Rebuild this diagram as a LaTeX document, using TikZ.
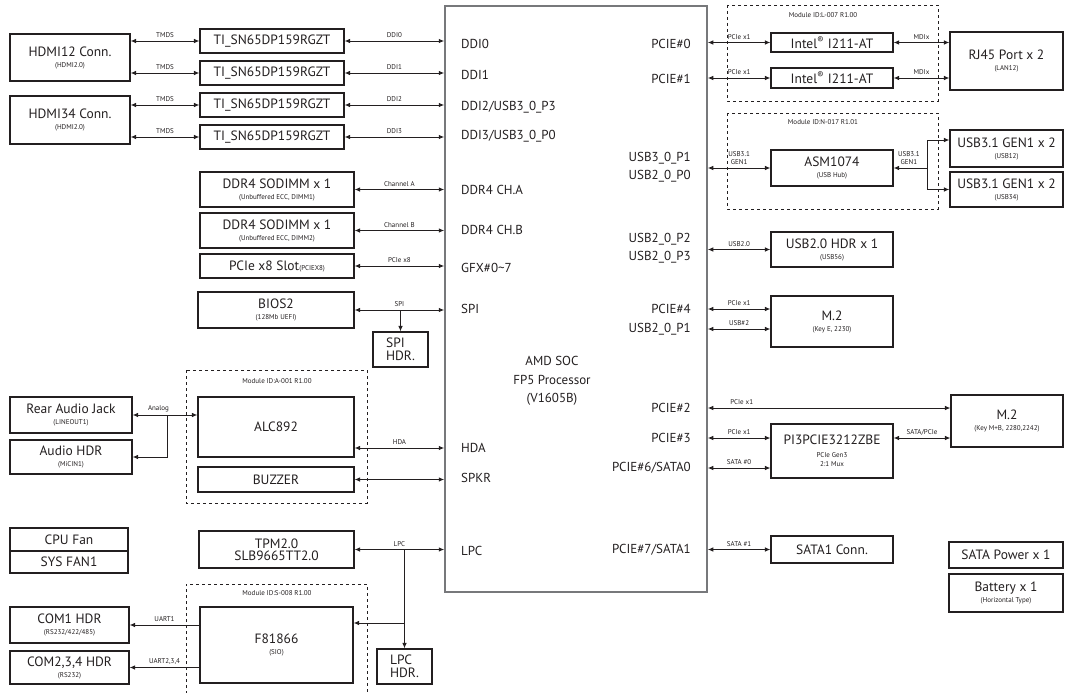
\documentclass[tikz,border=0pt]{standalone}
\usepackage{fontspec}
\setmainfont{PT Sans}
\usetikzlibrary{arrows.meta}
\definecolor{ink}{HTML}{231F20}
\definecolor{socgray}{HTML}{77787B}
\newcommand{\subt}[1]{{\fontsize{7}{8}\selectfont #1}}

\begin{document}
\begin{tikzpicture}[x=1pt,y=-1pt]
\tikzstyle{every node}+=[inner sep=0pt, text=ink]
\tikzstyle{box}=[draw=ink, line width=1.1pt, align=center, font=\fontsize{13.5}{14}\selectfont]
\tikzstyle{lbl}=[font=\fontsize{13}{14}\selectfont, align=left]
\tikzstyle{rlbl}=[font=\fontsize{13}{18}\selectfont, align=right, anchor=east]
\tikzstyle{sig}=[font=\fontsize{7}{8}\selectfont, align=center, above=2.5pt]
\tikzstyle{link}=[draw=ink, line width=0.9pt, {Latex[length=5.5pt,width=4.5pt]}-{Latex[length=5.5pt,width=4.5pt]}]
\tikzstyle{oneway}=[draw=ink, line width=0.9pt, -{Latex[length=5.5pt,width=4.5pt]}]
\tikzstyle{module}=[draw=ink, dashed, line width=0.8pt]
\useasboundingbox (0,0) rectangle (1065,693);

\node[draw=socgray, line width=1.5pt, minimum width=262, minimum height=586] (soc) at (576,299) {};
\node[font=\fontsize{13}{18.5}\selectfont, align=center] (socname) at (552,381) {AMD SOC\\FP5 Processor\\(V1605B)};
\node[lbl, anchor=west] (pddi0) at (461,44) {DDI0};
\node[lbl, anchor=west] (pddi1) at (461,75) {DDI1};
\node[lbl, anchor=west] (pddi2) at (461,107) {DDI2/USB3\_0\_P3};
\node[lbl, anchor=west] (pddi3) at (461,136) {DDI3/USB3\_0\_P0};
\node[lbl, anchor=west] (pcha) at (461,190) {DDR4 CH.A};
\node[lbl, anchor=west] (pchb) at (461,230) {DDR4 CH.B};
\node[lbl, anchor=west] (pgfx) at (461,268) {GFX\#0\textasciitilde 7};
\node[lbl, anchor=west] (pspi) at (461,309) {SPI};
\node[lbl, anchor=west] (phda) at (461,448) {HDA};
\node[lbl, anchor=west] (pspkr) at (461,478) {SPKR};
\node[lbl, anchor=west] (plpc) at (461,551) {LPC};
\node[rlbl] (ppcie0) at (691,44) {PCIE\#0};
\node[rlbl] (ppcie1) at (691,79) {PCIE\#1};
\node[rlbl] (pusb30) at (691,167) {USB3\_0\_P1\\USB2\_0\_P0};
\node[rlbl] (pusb22) at (691,248) {USB2\_0\_P2\\USB2\_0\_P3};
\node[rlbl] (ppcie4) at (691,309) {PCIE\#4};
\node[rlbl] (pusb21) at (691,329) {USB2\_0\_P1};
\node[rlbl] (ppcie2) at (691,408) {PCIE\#2};
\node[rlbl] (ppcie3) at (691,438) {PCIE\#3};
\node[rlbl] (psata0) at (691,468) {PCIE\#6/SATA0};
\node[rlbl] (psata1) at (691,550) {PCIE\#7/SATA1};

\node[box, minimum width=120, minimum height=47] (hdmi12) at (70,57.5) {HDMI12 Conn.\\[-3pt]\subt{(HDMI2.0)}};
\node[box, minimum width=120, minimum height=48] (hdmi34) at (70,120) {HDMI34 Conn.\\[-3pt]\subt{(HDMI2.0)}};
\node[box, minimum width=144, minimum height=24] (ti0) at (272,41) {TI\_SN65DP159RGZT};
\node[box, minimum width=144, minimum height=24] (ti1) at (272,73) {TI\_SN65DP159RGZT};
\node[box, minimum width=144, minimum height=24] (ti2) at (272,105) {TI\_SN65DP159RGZT};
\node[box, minimum width=144, minimum height=24] (ti3) at (272,137) {TI\_SN65DP159RGZT};
\draw[link] (ti0.west -| hdmi12.east) -- (ti0.west) node[sig, midway] {TMDS};
\draw[link] (ti1.west -| hdmi12.east) -- (ti1.west) node[sig, midway] {TMDS};
\draw[link] (ti2.west -| hdmi34.east) -- (ti2.west) node[sig, midway] {TMDS};
\draw[link] (ti3.west -| hdmi34.east) -- (ti3.west) node[sig, midway] {TMDS};
\draw[link] (ti0.east) -- (ti0.east -| soc.west) node[sig, midway] {DDI0};
\draw[link] (ti1.east) -- (ti1.east -| soc.west) node[sig, midway] {DDI1};
\draw[link] (ti2.east) -- (ti2.east -| soc.west) node[sig, midway] {DDI2};
\draw[link] (ti3.east) -- (ti3.east -| soc.west) node[sig, midway] {DDI3};

\node[box, minimum width=154, minimum height=35] (dimm1) at (277,189.5) {DDR4 SODIMM x 1\\[-3pt]\subt{(Unbuffered ECC, DIMM1)}};
\node[box, minimum width=154, minimum height=35] (dimm2) at (277,230.5) {DDR4 SODIMM x 1\\[-3pt]\subt{(Unbuffered ECC, DIMM2)}};
\node[box, minimum width=154, minimum height=24] (slot) at (277,266) {PCIe x8 Slot\subt{(PCIEX8)}};
\node[box, minimum width=156, minimum height=36] (bios) at (276,310) {BIOS2\\[-3pt]\subt{(128Mb UEFI)}};
\node[box, minimum width=55, minimum height=35, align=left] (spihdr) at (400.5,349.5) {SPI\\[-1pt]HDR.};
\draw[link] (dimm1.east) -- (dimm1.east -| soc.west) node[sig, midway] {Channel A};
\draw[link] (dimm2.east) -- (dimm2.east -| soc.west) node[sig, midway] {Channel B};
\draw[link] (slot.east) -- (slot.east -| soc.west) node[sig, midway] {PCIe x8};
\draw[link] (bios.east) -- (bios.east -| soc.west) node[sig, midway] {SPI};
\draw[oneway] (bios.east -| spihdr.north) -- (spihdr.north);

\draw[module] (186,370) rectangle (367,503);
\node[font=\fontsize{7}{8}\selectfont] (moda) at (277,381) {Module ID:A-001 R1.00};
\node[box, minimum width=156, minimum height=60] (alc) at (276,427) {ALC892};
\node[box, minimum width=156, minimum height=25] (buzzer) at (276,479.5) {BUZZER};
\node[box, minimum width=122, minimum height=36] (rear) at (71,415) {Rear Audio Jack\\[-3pt]\subt{(LINEOUT1)}};
\node[box, minimum width=122, minimum height=34] (audiohdr) at (71,457) {Audio HDR\\[-3pt]\subt{(MiCIN1)}};
\draw[link] (rear.east) -- (rear.east -| alc.west) node[sig, pos=0.4] {Analog};
\draw[oneway] ([xshift=35pt]rear.east) |- (audiohdr.east);
\draw[link] (alc.east |- phda) -- (soc.west |- phda) node[sig, midway] {HDA};
\draw[link] (buzzer.east) -- (buzzer.east -| soc.west);

\node[box, minimum width=118, minimum height=23] (cpufan) at (69,539.5) {CPU Fan};
\node[box, minimum width=118, minimum height=22] (sysfan) at (69,562) {SYS FAN1};
\node[box, minimum width=155, minimum height=37] (tpm) at (276.5,549.5) {TPM2.0\\[-2pt]SLB9665TT2.0};
\node[box, minimum width=55, minimum height=35, align=left] (lpchdr) at (404.5,666.5) {LPC\\[-1pt]HDR.};
\draw[link] (tpm.east) -- (tpm.east -| soc.west) node[sig, midway] {LPC};
\draw[oneway] (tpm.east -| lpchdr.north) -- (lpchdr.north);

\draw[module] (186,700) -- (186,584) -- (367,584) -- (367,700);
\node[font=\fontsize{7}{8}\selectfont] (mods) at (277,593) {Module ID:S-008 R1.00};
\node[box, minimum width=153, minimum height=76] (sio) at (276.5,645) {F81866\\[-3pt]\subt{(SIO)}};
\node[box, minimum width=119, minimum height=36] (com1) at (69.5,625) {COM1 HDR\\[-3pt]\subt{(RS232/422/485)}};
\node[box, minimum width=119, minimum height=33] (com234) at (69.5,667.5) {COM2,3,4 HDR\\[-3pt]\subt{(RS232)}};
\coordinate (lpcj) at (lpchdr.north |- 0,623);
\draw[oneway] (lpcj) -- (lpcj -| sio.east);
\draw[oneway] (sio.west |- com1) -- (com1.east) node[sig, midway] {UART1};
\draw[oneway] (sio.west |- com234) -- (com234.east) node[sig, midway] {UART2,3,4};

\draw[module] (727,5) rectangle (938,101);
\node[font=\fontsize{7}{8}\selectfont] (modl) at (823,15) {Module ID:L-007 R1.00};
\node[box, minimum width=122, minimum height=19] (lan0) at (832,42.5) {Intel\textsuperscript{®} I211-AT};
\node[box, minimum width=122, minimum height=20] (lan1) at (832,78) {Intel\textsuperscript{®} I211-AT};
\node[box, minimum width=113, minimum height=58] (rj45) at (1006.5,61) {RJ45 Port x 2\\[-3pt]\subt{(LAN12)}};
\draw[link] (lan0.west -| soc.east) -- (lan0.west) node[sig, midway] {PCIe x1};
\draw[link] (lan1.west -| soc.east) -- (lan1.west) node[sig, midway] {PCIe x1};
\draw[link] (lan0.east) -- (lan0.east -| rj45.west) node[sig, midway] {MDIx};
\draw[link] (lan1.east) -- (lan1.east -| rj45.west) node[sig, midway] {MDIx};

\draw[module] (727,113) rectangle (938,209);
\node[font=\fontsize{7}{8}\selectfont] (modn) at (823,122) {Module ID:N-017 R1.01};
\node[box, minimum width=122, minimum height=36] (hub) at (832,168) {ASM1074\\[-3pt]\subt{(USB Hub)}};
\node[box, minimum width=113, minimum height=37] (usb12) at (1006.5,148.5) {USB3.1 GEN1 x 2\\[-3pt]\subt{(USB12)}};
\node[box, minimum width=113, minimum height=35] (usb34) at (1006.5,189.5) {USB3.1 GEN1 x 2\\[-3pt]\subt{(USB34)}};
\draw[link] (hub.west -| soc.east) -- (hub.west) node[sig, midway] {USB3.1\\GEN1};
\draw[{Latex[length=5.5pt,width=4.5pt]}-, draw=ink, line width=0.9pt] (hub.east) -- ++(34,0) coordinate (hubj) node[sig, pos=0.45] {USB3.1\\GEN1};
\draw[oneway] (hubj) |- ([yshift=8.5pt]usb12.west);
\draw[oneway] (hubj) |- (usb34.west);

\node[box, minimum width=122, minimum height=35] (usb56) at (832,249.5) {USB2.0 HDR x 1\\[-3pt]\subt{(USB56)}};
\node[box, minimum width=122, minimum height=51] (m2e) at (832,321.5) {M.2\\[-3pt]\subt{(Key E, 2230)}};
\draw[link] (usb56.west -| soc.east) -- (usb56.west) node[sig, midway] {USB2.0};
\draw[link] (soc.east |- ppcie4) -- (ppcie4 -| m2e.west) node[sig, midway] {PCIe x1};
\draw[link] (soc.east |- pusb21) -- (pusb21 -| m2e.west) node[sig, midway] {USB\#2};

\node[box, minimum width=112, minimum height=52] (m2mb) at (1007,421) {M.2\\[-3pt]\subt{(Key M+B, 2280,2242)}};
\node[box, minimum width=122, minimum height=54] (mux) at (832,451) {PI3PCIE3212ZBE\\[-1pt]\subt{PCIe Gen3}\\[-5pt]\subt{2:1 Mux}};
\draw[link] (soc.east |- ppcie2) -- (ppcie2 -| m2mb.west) node[sig, pos=0.14] {PCIe x1};
\draw[link] (soc.east |- ppcie3) -- (ppcie3 -| mux.west) node[sig, midway] {PCIe x1};
\draw[link] (soc.east |- psata0) -- (psata0 -| mux.west) node[sig, midway] {SATA \#0};
\draw[link] (mux.east |- ppcie3) -- (ppcie3 -| m2mb.west) node[sig, midway] {SATA/PCIe};

\node[box, minimum width=122, minimum height=27] (sata1) at (832,549.5) {SATA1 Conn.};
\draw[link] (sata1.west -| soc.east) -- (sata1.west) node[sig, midway] {SATA \#1};
\node[box, minimum width=114, minimum height=26] (satapwr) at (1006,555) {SATA Power x 1};
\node[box, minimum width=114, minimum height=38] (battery) at (1006,593) {Battery x 1\\[-3pt]\subt{(Horizontal Type)}};
\end{tikzpicture}
\end{document}
